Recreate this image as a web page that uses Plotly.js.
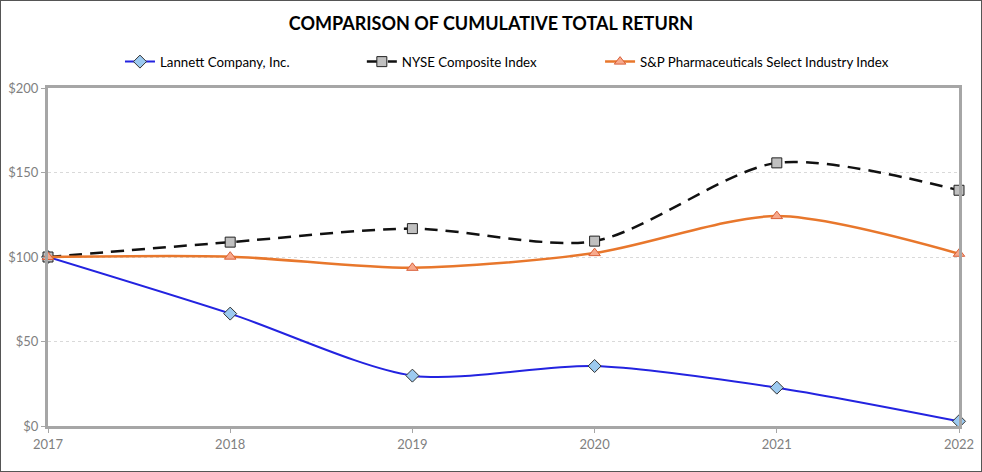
<!DOCTYPE html>
<html><head><meta charset="utf-8">
<script src="https://cdn.plot.ly/plotly-3.0.1.min.js"></script>
<style>
html,body{margin:0;padding:0;background:#fff;}
#wrap{width:982px;height:472px;box-sizing:border-box;border:1px solid #555;overflow:hidden;}
#chart{width:980px;height:470px;}
</style></head>
<body><div id="wrap"><div id="chart"></div></div>
<script>
const years = [2017, 2018, 2019, 2020, 2021, 2022];
const lannett = [100, 66.5, 29.8, 35.5, 22.7, 2.8];
const nyse = [100, 108.8, 116.8, 109.4, 155.7, 139.5];
const spPharma = [100, 100.2, 93.6, 102.3, 124.2, 101.9];
const yTickVals = [0, 50, 100, 150, 200];
const yTickText = ['$0', '$50', '$100', '$150', '$200'];
const seriesNames = ['Lannett Company, Inc.', 'NYSE Composite Index', 'S&P Pharmaceuticals Select Industry Index'];

const font = 'Lato, "Open Sans", sans-serif';
const traces = [
  {x: years, y: lannett, name: seriesNames[0], mode: 'lines+markers', legend: 'legend',
   line: {color: '#2323e0', width: 2, shape: 'spline', smoothing: 0.8},
   marker: {symbol: 'diamond', size: 10, color: '#9ccaf0', line: {color: '#333', width: 1}}},
  {x: years, y: nyse, name: seriesNames[1], mode: 'lines+markers', legend: 'legend2',
   line: {color: '#111', width: 2.5, shape: 'spline', smoothing: 0.8, dash: '13px,8px'},
   marker: {symbol: 'square', size: 10, color: '#c0c0c0', line: {color: '#222', width: 1}}},
  {x: years, y: spPharma, name: seriesNames[2], mode: 'lines+markers', legend: 'legend3',
   line: {color: '#e8772c', width: 2.5, shape: 'spline', smoothing: 0.8},
   marker: {symbol: 'triangle-up', size: 10, color: '#f7a98c', line: {color: '#d9603a', width: 1}}}
];
const legendBase = (x) => ({orientation: 'h', x: x, xanchor: 'left', y: 1.077, yanchor: 'middle',
  font: {size: 13.3, family: font, color: '#000'}, bgcolor: 'rgba(0,0,0,0)', itemclick: false});
const layout = {
  width: 980, height: 470,
  margin: {l: 47, r: 22, t: 87, b: 45},
  paper_bgcolor: '#fff', plot_bgcolor: '#fff',
  font: {family: font, color: '#000'},
  title: {text: '<b>COMPARISON OF CUMULATIVE TOTAL RETURN</b>', x: 0.5, xanchor: 'center', y: 0.951, yanchor: 'middle',
          font: {size: 18, family: font, color: '#000'}},
  showlegend: true,
  legend: legendBase(0.079),
  legend2: legendBase(0.3445),
  legend3: legendBase(0.606),
  xaxis: {range: [2017, 2022], tickvals: years, ticktext: years.map(String),
          showline: true, mirror: true, linecolor: '#a6a6a6', linewidth: 3,
          showgrid: false, zeroline: false, ticks: 'outside', ticklen: 4, tickcolor: '#a6a6a6',
          tickfont: {size: 13, color: '#7f7f7f', family: font}},
  yaxis: {range: [0, 200], tickvals: yTickVals, ticktext: yTickText,
          showline: true, mirror: true, linecolor: '#a6a6a6', linewidth: 3,
          showgrid: true, gridcolor: '#d9d9d9', griddash: 'dot', gridwidth: 1, zeroline: false,
          ticks: 'outside', ticklen: 4, tickcolor: '#a6a6a6',
          tickfont: {size: 13, color: '#7f7f7f', family: font}}
};
traces.forEach(t => t.cliponaxis = false);
Plotly.newPlot('chart', traces, layout, {staticPlot: true});
</script></body></html>
